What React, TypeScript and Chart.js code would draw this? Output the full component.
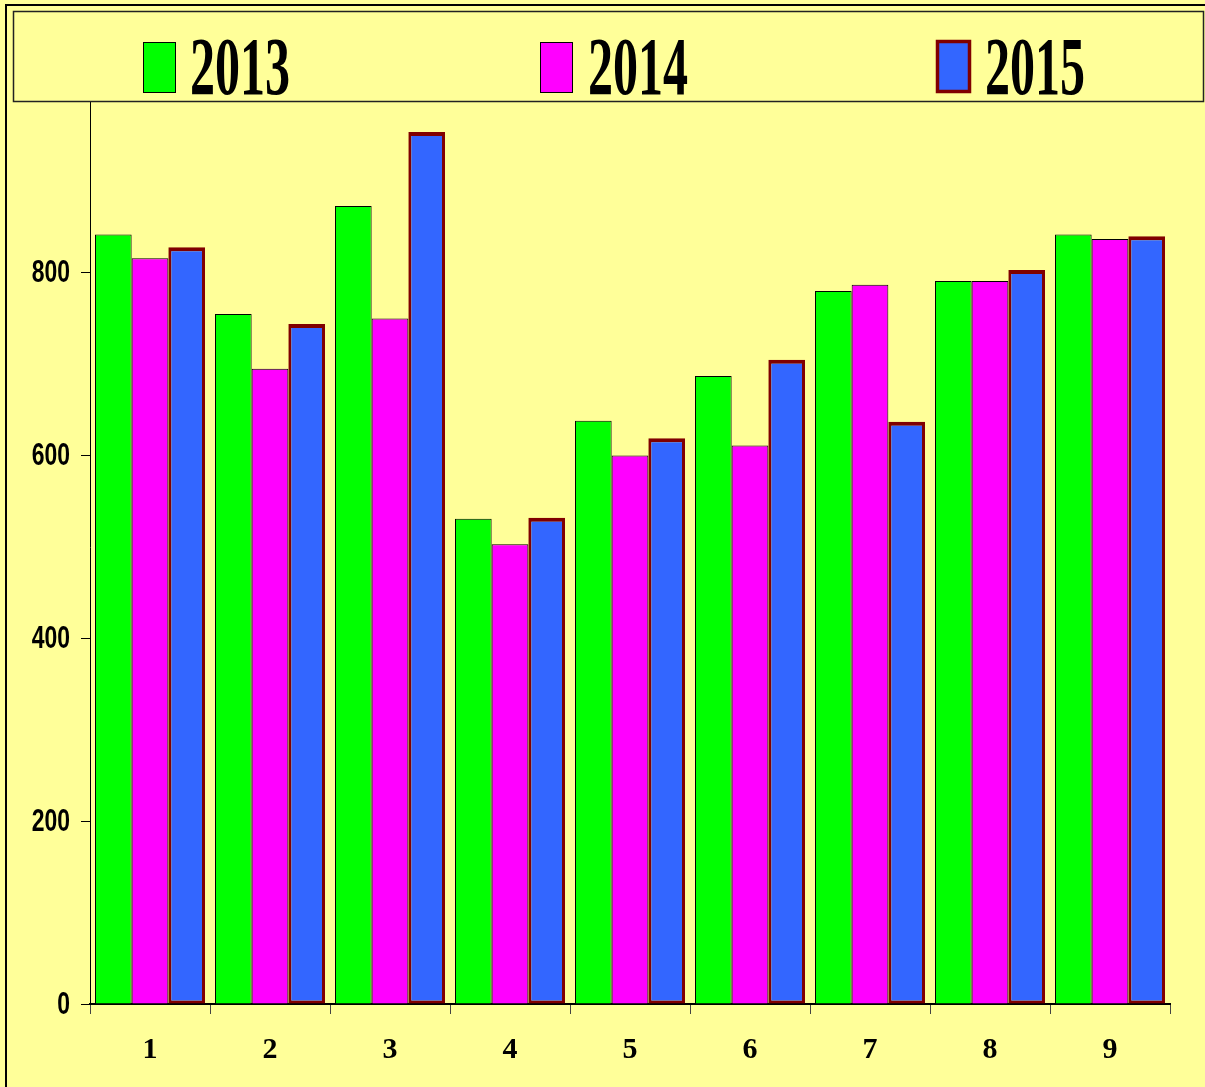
import React, { useEffect, useRef } from "react";
import { Chart, registerables } from "chart.js";

Chart.register(...registerables);

const categories = ["1", "2", "3", "4", "5", "6", "7", "8", "9"];
const seriesLabels = ["2013", "2014", "2015"];
const values2013 = [842, 755, 873, 531, 638, 687, 780, 791, 842];
const values2014 = [816, 695, 750, 503, 600, 611, 787, 791, 837];
const values2015 = [828, 744, 954, 532, 619, 705, 637, 803, 840];
const yTicks = [0, 200, 400, 600, 800, 1000];

const BG = "#FFFF99";

const framePlugin = {
  id: "frame",
  beforeDraw(chart: any) {
    const ctx = chart.ctx;
    ctx.save();
    ctx.fillStyle = BG;
    ctx.fillRect(0, 0, chart.width, chart.height);
    ctx.strokeStyle = "#000";
    ctx.lineWidth = 2;
    ctx.strokeRect(6, 5, chart.width + 20, chart.height + 20);
    ctx.restore();
  },
  afterDraw(chart: any) {
    const ctx = chart.ctx;
    // y tick labels, condensed, positioned by the y scale
    const ys = chart.scales.y;
    ctx.save();
    ctx.fillStyle = "#000";
    ctx.font = "bold 31px 'Liberation Sans', Arial, sans-serif";
    ctx.textAlign = "right";
    ctx.textBaseline = "middle";
    ys.ticks.forEach((t: any) => {
      const py = ys.getPixelForValue(t.value);
      ctx.save();
      ctx.translate(ys.right - 9 - 11, py + 1);
      ctx.scale(0.74, 1);
      ctx.fillText(String(t.value), 0, 0);
      ctx.restore();
    });
    ctx.restore();

    ctx.save();
    // legend box
    ctx.fillStyle = BG;
    ctx.fillRect(13, 11, 1190, 91);
    ctx.strokeStyle = "#222";
    ctx.lineWidth = 1.5;
    ctx.strokeRect(13.5, 11.5, 1190, 90);
    const swatchX = [143, 540, 937];
    const textX = [190, 588, 985];
    chart.data.datasets.forEach((ds: any, i: number) => {
      const sx = swatchX[i];
      ctx.fillStyle = ds.backgroundColor;
      ctx.fillRect(sx, 42, 33, 51);
      if (i === 2) {
        ctx.strokeStyle = ds.borderColor;
        ctx.lineWidth = 3.5;
        ctx.strokeRect(sx + 0.5, 41.5, 32, 50);
      } else {
        ctx.strokeStyle = "#000";
        ctx.lineWidth = 1;
        ctx.strokeRect(sx + 0.5, 42.5, 32, 50);
      }
      ctx.save();
      ctx.translate(textX[i], 94);
      ctx.scale(0.61, 1);
      ctx.fillStyle = "#000";
      ctx.font = "bold 82px 'Liberation Serif', 'Times New Roman', serif";
      ctx.textBaseline = "alphabetic";
      ctx.textAlign = "left";
      ctx.fillText(ds.label, 0, 0);
      ctx.restore();
    });
    ctx.restore();
  },
};

export default function App() {
  const ref = useRef<HTMLCanvasElement | null>(null);

  useEffect(() => {
    document.body.style.margin = "0";
    const canvas = ref.current;
    if (!canvas) return;
    const chart = new Chart(canvas, {
      type: "bar",
      data: {
        labels: categories,
        datasets: [
          {
            label: seriesLabels[0],
            data: values2013,
            backgroundColor: "#00FF00",
            borderColor: "#000000",
            borderWidth: 1,
          },
          {
            label: seriesLabels[1],
            data: values2014,
            backgroundColor: "#FF00FF",
            borderColor: "#000000",
            borderWidth: 1,
          },
          {
            label: seriesLabels[2],
            data: values2015,
            backgroundColor: "#3366FF",
            borderColor: "#800000",
            borderWidth: { top: 4, left: 3, right: 3, bottom: 3 },
            borderSkipped: false,
          },
        ],
      },
      options: {
        responsive: false,
        animation: false,
        devicePixelRatio: 1,
        layout: { padding: { left: 0, right: 35, top: 90, bottom: 0 } },
        datasets: {
          bar: { categoryPercentage: 0.917, barPercentage: 1 },
        },
        plugins: {
          legend: { display: false },
          tooltip: { enabled: false },
          title: { display: false },
        },
        scales: {
          x: {
            offset: true,
            grid: {
              offset: true,
              drawOnChartArea: false,
              drawTicks: true,
              tickLength: 10,
              color: "#444",
              lineWidth: 1,
            },
            border: { display: true, color: "#000", width: 2 },
            ticks: {
              color: "#000",
              padding: 18,
              font: { family: "'Liberation Serif', 'Times New Roman', serif", size: 30, weight: "bold" },
            },
            afterFit(scale: any) {
              scale.height = 83;
            },
          },
          y: {
            min: 0,
            max: 1000,
            afterBuildTicks(scale: any) {
              scale.ticks = yTicks.map((v) => ({ value: v }));
            },
            grid: {
              drawOnChartArea: false,
              drawTicks: true,
              tickLength: 9,
              color: "#000",
              lineWidth: 1,
            },
            border: { display: true, color: "#000", width: 1 },
            ticks: { display: false },
            afterFit(scale: any) {
              scale.width = 90;
            },
          },
        },
      },
      plugins: [framePlugin],
    });
    return () => chart.destroy();
  }, []);

  return (
    <div style={{ position: "absolute", left: 0, top: 0, width: 1205, height: 1087 }}>
      <canvas ref={ref} width={1205} height={1087} />
    </div>
  );
}
